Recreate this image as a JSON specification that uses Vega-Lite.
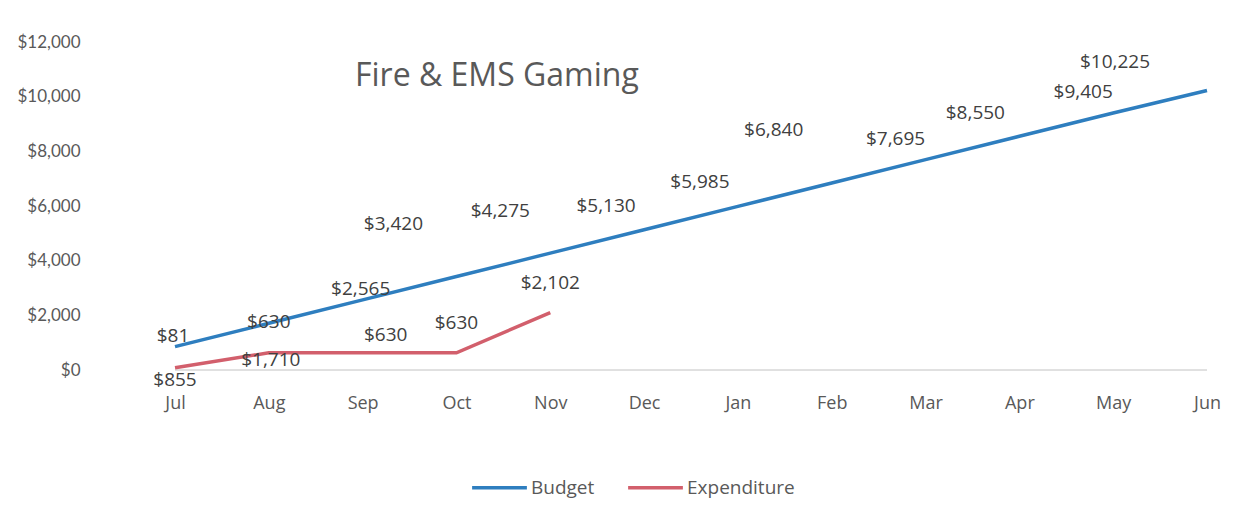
{
  "$schema": "https://vega.github.io/schema/vega-lite/v6.json",
  "autosize": {"type": "none"},
  "width": 1032,
  "height": 328,
  "padding": {"left": 175, "top": 42, "right": 39, "bottom": 155},
  "background": "white",
  "config": {
    "view": {"stroke": null},
    "font": "Open Sans",
    "text": {"font": "Open Sans", "fontSize": 19, "color": "#404040"}
  },
  "title": {
    "text": "Fire & EMS Gaming",
    "anchor": "start",
    "frame": "group",
    "font": "Open Sans",
    "fontSize": 32,
    "fontWeight": "normal",
    "color": "#595959",
    "dx": 180,
    "offset": -60
  },
  "data": {
    "values": [
      {"month": "Jul", "series": "Budget", "value": 855, "label": "$81"},
      {"month": "Aug", "series": "Budget", "value": 1710, "label": "$630"},
      {"month": "Sep", "series": "Budget", "value": 2565, "label": "$2,565"},
      {"month": "Oct", "series": "Budget", "value": 3420, "label": "$3,420"},
      {"month": "Nov", "series": "Budget", "value": 4275, "label": "$4,275"},
      {"month": "Dec", "series": "Budget", "value": 5130, "label": "$5,130"},
      {"month": "Jan", "series": "Budget", "value": 5985, "label": "$5,985"},
      {"month": "Feb", "series": "Budget", "value": 6840, "label": "$6,840"},
      {"month": "Mar", "series": "Budget", "value": 7695, "label": "$7,695"},
      {"month": "Apr", "series": "Budget", "value": 8550, "label": "$8,550"},
      {"month": "May", "series": "Budget", "value": 9405, "label": "$9,405"},
      {"month": "Jun", "series": "Budget", "value": 10225, "label": "$10,225"},
      {"month": "Jul", "series": "Expenditure", "value": 81, "label": "$855"},
      {"month": "Aug", "series": "Expenditure", "value": 630, "label": "$1,710"},
      {"month": "Sep", "series": "Expenditure", "value": 630, "label": "$630"},
      {"month": "Oct", "series": "Expenditure", "value": 630, "label": "$630"},
      {"month": "Nov", "series": "Expenditure", "value": 2102, "label": "$2,102"}
    ]
  },
  "encoding": {
    "x": {
      "field": "month",
      "type": "ordinal",
      "sort": ["Jul","Aug","Sep","Oct","Nov","Dec","Jan","Feb","Mar","Apr","May","Jun"],
      "scale": {"type": "point", "padding": 0},
      "axis": {
        "title": null,
        "labelAngle": 0,
        "labelFont": "Open Sans",
        "labelFontSize": 18,
        "labelColor": "#595959",
        "labelPadding": 24,
        "ticks": false,
        "domain": false,
        "grid": false
      }
    },
    "y": {
      "field": "value",
      "type": "quantitative",
      "scale": {"domain": [0, 12000], "nice": false},
      "axis": {
        "title": null,
        "values": [0, 2000, 4000, 6000, 8000, 10000, 12000],
        "format": "$,.0f",
        "labelFont": "Lato",
        "labelFontSize": 17,
        "labelColor": "#595959",
        "labelPadding": 8,
        "offset": 87,
        "ticks": false,
        "domain": false,
        "grid": false
      }
    }
  },
  "layer": [
    {
      "mark": {"type": "rule", "color": "#e0e0e0", "strokeWidth": 1},
      "encoding": {"x": null, "y": {"datum": 0, "type": "quantitative"}}
    },
    {
      "mark": {"type": "line", "strokeWidth": 3.5},
      "encoding": {
        "color": {
          "field": "series",
          "type": "nominal",
          "scale": {"domain": ["Budget", "Expenditure"], "range": ["#2e7ebf", "#d25f6c"]},
          "legend": {
            "title": null,
            "orient": "none",
            "legendX": 295,
            "legendY": 416,
            "direction": "horizontal",
            "symbolType": "stroke",
            "symbolSize": 3000,
            "symbolStrokeWidth": 3.5,
            "labelFont": "Open Sans",
            "labelFontSize": 19,
            "labelColor": "#595959",
            "labelOffset": 2,
            "columnPadding": 26
          }
        }
      }
    },
    {"transform": [{"filter": "datum.series == 'Budget' && (datum.month == 'Jul' || datum.month == 'Sep')"}],
     "mark": {"type": "text", "dx": -2, "dy": -11}, "encoding": {"text": {"field": "label"}}},
    {"transform": [{"filter": "datum.series == 'Budget' && datum.month == 'Aug'"}],
     "mark": {"type": "text", "dx": 0, "dy": -1}, "encoding": {"text": {"field": "label"}}},
    {"transform": [{"filter": "datum.series == 'Budget' && datum.month == 'Oct'"}],
     "mark": {"type": "text", "dx": -63, "dy": -53}, "encoding": {"text": {"field": "label"}}},
    {"transform": [{"filter": "datum.series == 'Budget' && datum.month == 'Nov'"}],
     "mark": {"type": "text", "dx": -50, "dy": -42}, "encoding": {"text": {"field": "label"}}},
    {"transform": [{"filter": "datum.series == 'Budget' && (datum.month == 'Dec' || datum.month == 'Jan')"}],
     "mark": {"type": "text", "dx": -38, "dy": -24}, "encoding": {"text": {"field": "label"}}},
    {"transform": [{"filter": "datum.series == 'Budget' && (datum.month == 'Mar' || datum.month == 'May')"}],
     "mark": {"type": "text", "dx": -30, "dy": -21}, "encoding": {"text": {"field": "label"}}},
    {"transform": [{"filter": "datum.series == 'Budget' && datum.month == 'Apr'"}],
     "mark": {"type": "text", "dx": -44, "dy": -23}, "encoding": {"text": {"field": "label"}}},
    {"transform": [{"filter": "datum.series == 'Budget' && datum.month == 'Feb'"}],
     "mark": {"type": "text", "dx": -58, "dy": -53}, "encoding": {"text": {"field": "label"}}},
    {"transform": [{"filter": "datum.series == 'Budget' && datum.month == 'Jun'"}],
     "mark": {"type": "text", "dx": -92, "dy": -29}, "encoding": {"text": {"field": "label"}}},
    {"transform": [{"filter": "datum.series == 'Expenditure' && datum.month == 'Jul'"}],
     "mark": {"type": "text", "dx": 0, "dy": 12}, "encoding": {"text": {"field": "label"}}},
    {"transform": [{"filter": "datum.series == 'Expenditure' && datum.month == 'Aug'"}],
     "mark": {"type": "text", "dx": 2, "dy": 7}, "encoding": {"text": {"field": "label"}}},
    {"transform": [{"filter": "datum.series == 'Expenditure' && datum.month == 'Sep'"}],
     "mark": {"type": "text", "dx": 23, "dy": -18}, "encoding": {"text": {"field": "label"}}},
    {"transform": [{"filter": "datum.series == 'Expenditure' && (datum.month == 'Oct' || datum.month == 'Nov')"}],
     "mark": {"type": "text", "dx": 0, "dy": -30}, "encoding": {"text": {"field": "label"}}}
  ]
}
